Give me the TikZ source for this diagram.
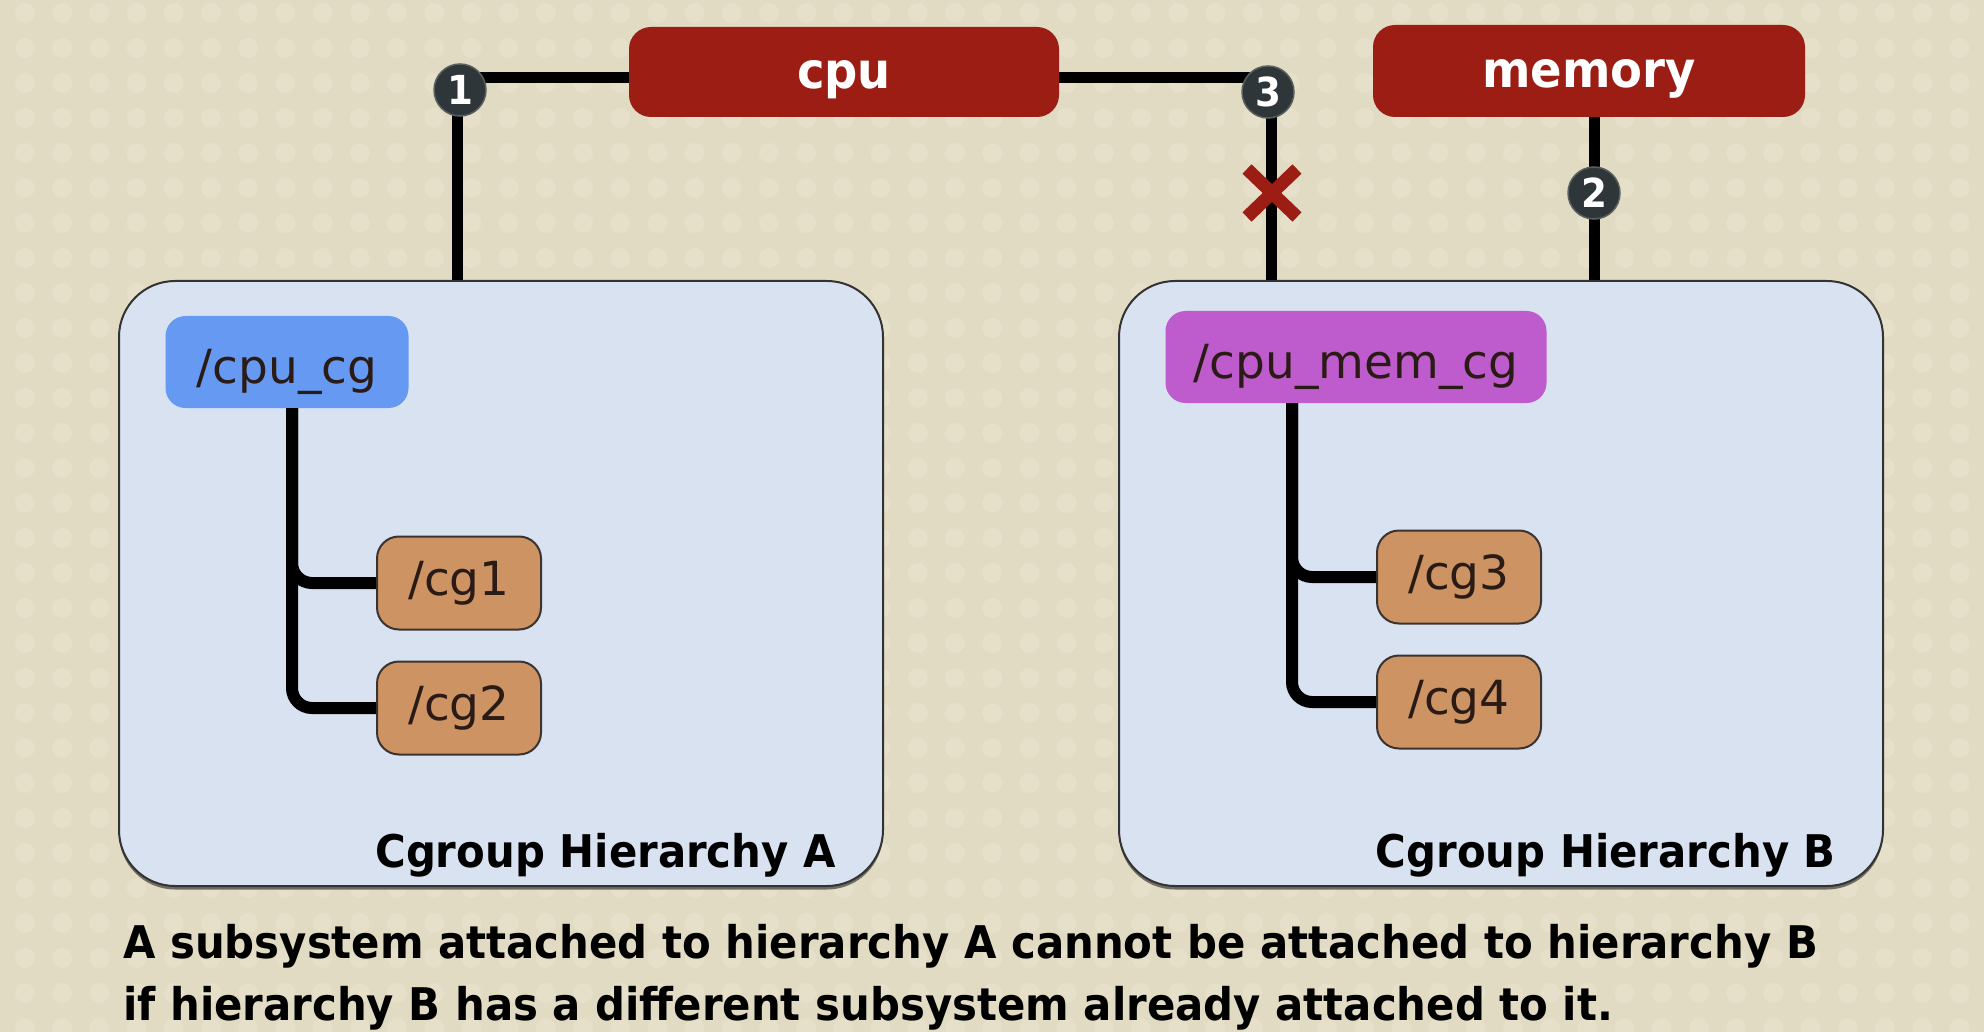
\documentclass[tikz,border=0pt]{standalone}
\usepackage{fontspec}
\usetikzlibrary{calc}
\setmainfont{DejaVu Sans}
\newfontfamily\boxfont{DejaVu Sans}
\newfontfamily\headfont{DejaVu Sans}[FakeStretch=0.93]
\definecolor{bgcol}{HTML}{E2DBC3}
\definecolor{dotcol}{HTML}{E6E0CA}
\definecolor{subred}{HTML}{9C1D14}
\definecolor{hierfill}{HTML}{D8E2F1}
\definecolor{hierdraw}{HTML}{333333}
\definecolor{shadowcol}{HTML}{6E6B62}
\definecolor{cgblue}{HTML}{6699F2}
\definecolor{cgpurple}{HTML}{BE5BCD}
\definecolor{cgorange}{HTML}{CE9363}
\definecolor{leafdraw}{HTML}{3A3330}
\definecolor{badgecol}{HTML}{2F3639}
\definecolor{badgedraw}{HTML}{59615F}
\definecolor{labtext}{HTML}{2B1B17}
\begin{document}
\begin{tikzpicture}[x=1pt,y=-1pt,
  subsys/.style={fill=subred, rounded corners=22, minimum width=430, minimum height=90,
    text=white, font=\headfont\bfseries\fontsize{50}{60}\selectfont, inner sep=0pt,
    text height=34pt, text depth=0pt},
  hier/.style={draw=hierdraw, line width=2, fill=hierfill, rounded corners=56,
    minimum width=764, minimum height=605, inner sep=0pt,
    preaction={fill=shadowcol, transform canvas={yshift=-3.5pt}}},
  rootcg/.style={rounded corners=20, minimum height=92, inner sep=0pt,
    text=labtext, font=\boxfont\fontsize{47}{56}\selectfont,
    text height=42pt, text depth=0pt},
  leaf/.style={fill=cgorange, draw=leafdraw, line width=2, rounded corners=22,
    minimum width=164, minimum height=93, inner sep=0pt,
    text=labtext, font=\boxfont\fontsize{47}{56}\selectfont},
  badge/.style={circle, fill=badgecol, draw=badgedraw, line width=1.5, minimum size=52,
    inner sep=0pt, text=white, font=\headfont\bfseries\fontsize{40}{48}\selectfont},
  conn/.style={line width=11, draw=black},
  treeline/.style={line width=12, draw=black, rounded corners=20},
  caption/.style={font=\headfont\bfseries\fontsize{45}{55}\selectfont, text=black, inner sep=0pt},
  xmark/.style={line width=13, draw=subred}
]
% background
\fill[bgcol] (0,0) rectangle (1984,1032);
\useasboundingbox (0,0) rectangle (1984,1032);
\foreach \i in {0,...,53}{
  \foreach \j in {0,...,29}{
    \fill[dotcol] (25+37.2*\i, 13+35*\j) circle (10);
  }
}
% hierarchy boxes
\node[hier] (hA) at (501,583.5) {};
\node[hier] (hB) at (1501,583.5) {};
% subsystems
\node[subsys] (cpu) at (844,72) {cpu};
\node[subsys, minimum width=432, minimum height=92] (mem) at (1589,71) {memory};
% connector coordinates
\coordinate (k1) at (457,78);
\coordinate (k3) at (1271,78);
\coordinate (k2) at (1594,0);
\draw[conn] (hA.north -| k1) -- (k1) -- (k1 -| cpu.west);
\draw[conn] (k3 -| cpu.east) -- (k3) -- (hB.north -| k3);
\draw[conn] (mem.south -| k2) -- (hB.north -| k2);
% badges
\node[badge] (b1) at (460,90) {1};
\node[badge] (b3) at (1268,92) {3};
\node[badge] (b2) at (1594,193) {2};
% red X
\coordinate (xm) at (1272,193);
\draw[xmark] ($(xm)+(-25,-24)$) -- ($(xm)+(25,24)$);
\draw[xmark] ($(xm)+(-25,24)$) -- ($(xm)+(25,-24)$);
% root cgroups
\node[rootcg, fill=cgblue, minimum width=243] (cpucg) at (287,362) {/cpu\_cg};
\node[rootcg, fill=cgpurple, minimum width=381] (cpumemcg) at (1356,357) {/cpu\_mem\_cg};
% leaves
\node[leaf] (cg1) at (459,583) {/cg1};
\node[leaf] (cg2) at (459,708) {/cg2};
\node[leaf] (cg3) at (1459,577) {/cg3};
\node[leaf] (cg4) at (1459,702) {/cg4};
% trees
\coordinate (tA) at (292,0);
\coordinate (tB) at (1292,0);
\draw[treeline] (cpucg.south -| tA) -- (cg1.west -| tA) -- (cg1.west);
\draw[treeline] (cpucg.south -| tA) -- (cg2.west -| tA) -- (cg2.west);
\draw[treeline] (cpumemcg.south -| tB) -- (cg3.west -| tB) -- (cg3.west);
\draw[treeline] (cpumemcg.south -| tB) -- (cg4.west -| tB) -- (cg4.west);
% hierarchy captions
\node[caption, anchor=base east] (capA) at (836,867) {Cgroup Hierarchy A};
\node[caption, anchor=base east] (capB) at (1836,867) {Cgroup Hierarchy B};
% bottom text
\node[caption, anchor=base west] (note1) at (123,958) {A subsystem attached to hierarchy A cannot be attached to hierarchy B};
\node[caption, anchor=base west] (note2) at (123,1020) {if hierarchy B has a different subsystem already attached to it.};
\end{tikzpicture}
\end{document}
